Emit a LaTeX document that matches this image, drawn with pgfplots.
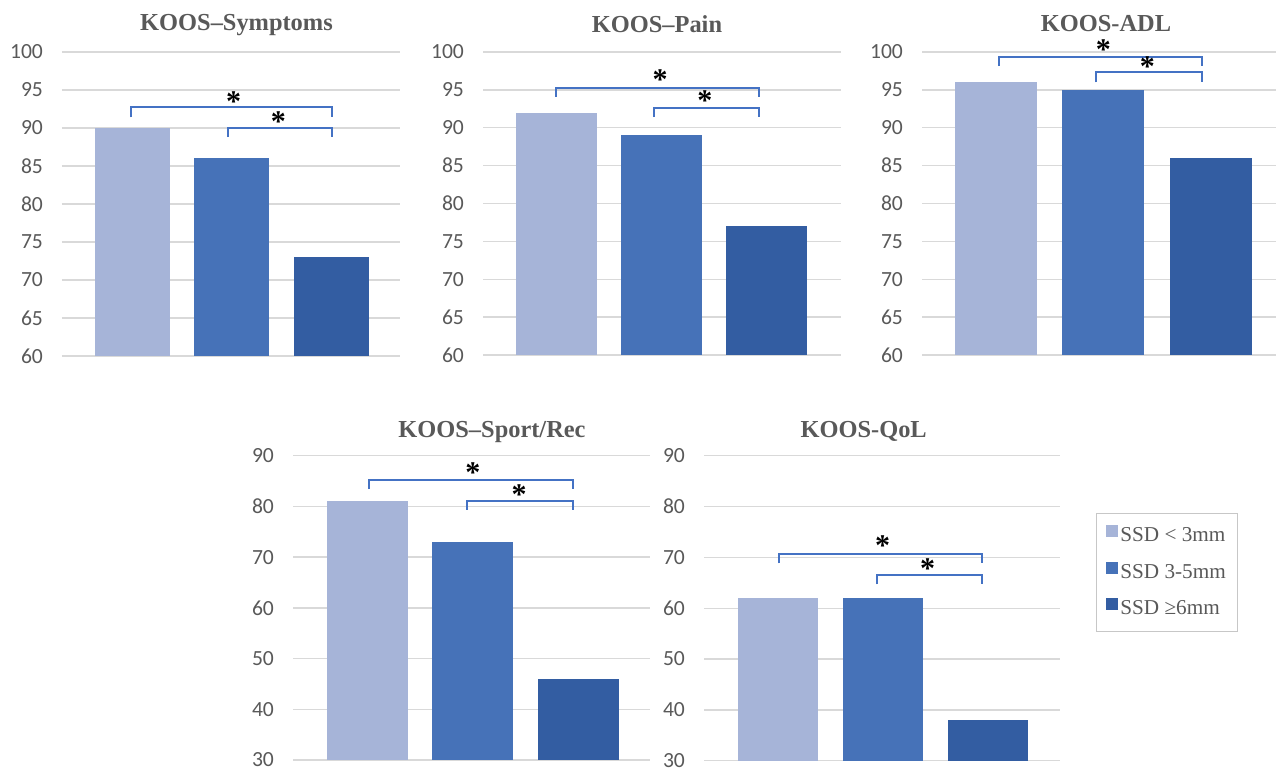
\documentclass[border=0pt]{standalone}
\usepackage{fontspec}
\setmainfont{Liberation Serif}
\newfontfamily\carlito{Carlito}
\usepackage{pgfplots}
\pgfplotsset{compat=1.18}
\definecolor{cA}{RGB}{166,180,216}
\definecolor{cB}{RGB}{70,114,184}
\definecolor{cC}{RGB}{51,93,162}
\definecolor{brk}{RGB}{68,114,196}
\definecolor{txt}{RGB}{89,89,89}
\definecolor{grd}{RGB}{217,217,217}
\pgfplotsset{
  koos/.style={
    scale only axis, anchor=south west,
    clip mode=individual,
    axis line style={draw=none},
    ymajorgrids, grid style={grd, line width=0.7pt},
    major tick length=0pt,
    xtick=\empty,
    yticklabel style={font=\carlito\fontsize{10.8}{12}\selectfont, text=txt, xshift=-6pt},
    /pgf/number format/assume math mode=true,
    ybar, bar shift=0pt,
  },
}
\newcommand{\brkt}[4]{\draw[brk, line width=1pt] (axis cs:#1,#4) -- (axis cs:#1,#3) -- (axis cs:#2,#3) -- (axis cs:#2,#4);}
\newcommand{\sig}[2]{\node[font=\bfseries\fontsize{15}{15}\selectfont, inner sep=0pt, yshift=-2.2pt] at (axis cs:#1,#2) {*};}
\newcommand{\ttl}[3]{\node[anchor=base, font=\bfseries\fontsize{12.2}{14}\selectfont, text=txt] at (#1*0.5pt, 384pt-#2*0.5pt) {#3};}
\begin{document}
\begin{tikzpicture}
\useasboundingbox (0,0) rectangle (638pt,384pt);
% Symptoms
\begin{axis}[koos, at={(31pt,206pt)}, width=169pt, height=152pt,
  xmin=-0.71, xmax=2.695, ymin=60, ymax=100, ytick={60,65,...,100}, bar width=37.5pt]
\addplot[fill=cA, draw=none] coordinates {(0,90)};
\addplot[fill=cB, draw=none] coordinates {(1,86)};
\addplot[fill=cC, draw=none] coordinates {(2,73)};
\brkt{-0.015}{2.015}{92.76}{91.4}
\brkt{0.96}{2.015}{90.0}{88.8}
\sig{1.02}{94.1}
\sig{1.47}{91.4}
\end{axis}
% Pain
\begin{axis}[koos, at={(241.5pt,206.5pt)}, width=179pt, height=151.5pt,
  xmin=-0.70, xmax=2.71, ymin=60, ymax=100, ytick={60,65,...,100}, bar width=40.5pt]
\addplot[fill=cA, draw=none] coordinates {(0,92)};
\addplot[fill=cB, draw=none] coordinates {(1,89)};
\addplot[fill=cC, draw=none] coordinates {(2,77)};
\brkt{0.0}{1.93}{95.3}{94.1}
\brkt{0.93}{1.93}{92.65}{91.4}
\sig{0.986}{97.0}
\sig{1.414}{94.1}
\end{axis}
% ADL
\begin{axis}[koos, at={(461pt,206.5pt)}, width=177pt, height=151.5pt,
  xmin=-0.69, xmax=2.61, ymin=60, ymax=100, ytick={60,65,...,100}, bar width=41pt]
\addplot[fill=cA, draw=none] coordinates {(0,96)};
\addplot[fill=cB, draw=none] coordinates {(1,95)};
\addplot[fill=cC, draw=none] coordinates {(2,86)};
\brkt{0.028}{1.92}{99.4}{98.15}
\brkt{0.93}{1.92}{97.3}{96.0}
\sig{1.0}{100.9}
\sig{1.41}{98.7}
\end{axis}
% Sport/Rec
\begin{axis}[koos, at={(146.5pt,4pt)}, width=178.5pt, height=152.15pt,
  xmin=-0.708, xmax=2.684, ymin=30, ymax=90, ytick={30,40,...,90}, bar width=40.5pt]
\addplot[fill=cA, draw=none] coordinates {(0,81)};
\addplot[fill=cB, draw=none] coordinates {(1,73)};
\addplot[fill=cC, draw=none] coordinates {(2,46)};
\brkt{0.014}{1.95}{85.2}{83.4}
\brkt{0.945}{1.95}{81.1}{79.3}
\sig{1.0}{87.5}
\sig{1.44}{83.2}
\end{axis}
% QoL
\begin{axis}[koos, at={(352pt,3.65pt)}, width=178pt, height=152.5pt,
  xmin=-0.70, xmax=2.69, ymin=30, ymax=90, ytick={30,40,...,90}, bar width=40pt,
  legend style={at={(rel axis cs:1.101,0.812)}, anchor=north west, draw=grd!80!gray, fill=white,
    font=\fontsize{10.6}{12}\selectfont, text=txt, row sep=7.5pt, inner xsep=5pt, inner ysep=6pt,
    nodes={inner sep=1pt}},
  legend cell align=left,
  legend image code/.code={\fill[#1] (0pt,-0.6pt) rectangle (6pt,5.4pt);}]
\addplot[fill=cA, draw=none] coordinates {(0,62)};
\addplot[fill=cB, draw=none] coordinates {(1,62)};
\addplot[fill=cC, draw=none] coordinates {(2,38)};
\addlegendentry{SSD < 3mm}
\addlegendentry{SSD 3-5mm}
\addlegendentry{SSD ≥6mm}
\brkt{0.014}{1.946}{70.6}{68.8}
\brkt{0.947}{1.946}{66.6}{64.7}
\sig{1.0}{73.1}
\sig{1.43}{68.6}
\end{axis}
\ttl{236.5}{31}{KOOS--Symptoms}
\ttl{657}{33}{KOOS--Pain}
\ttl{1106}{32}{KOOS-ADL}
\ttl{492}{437}{KOOS--Sport/Rec}
\ttl{863.7}{437}{KOOS-QoL}
\end{tikzpicture}
\end{document}
